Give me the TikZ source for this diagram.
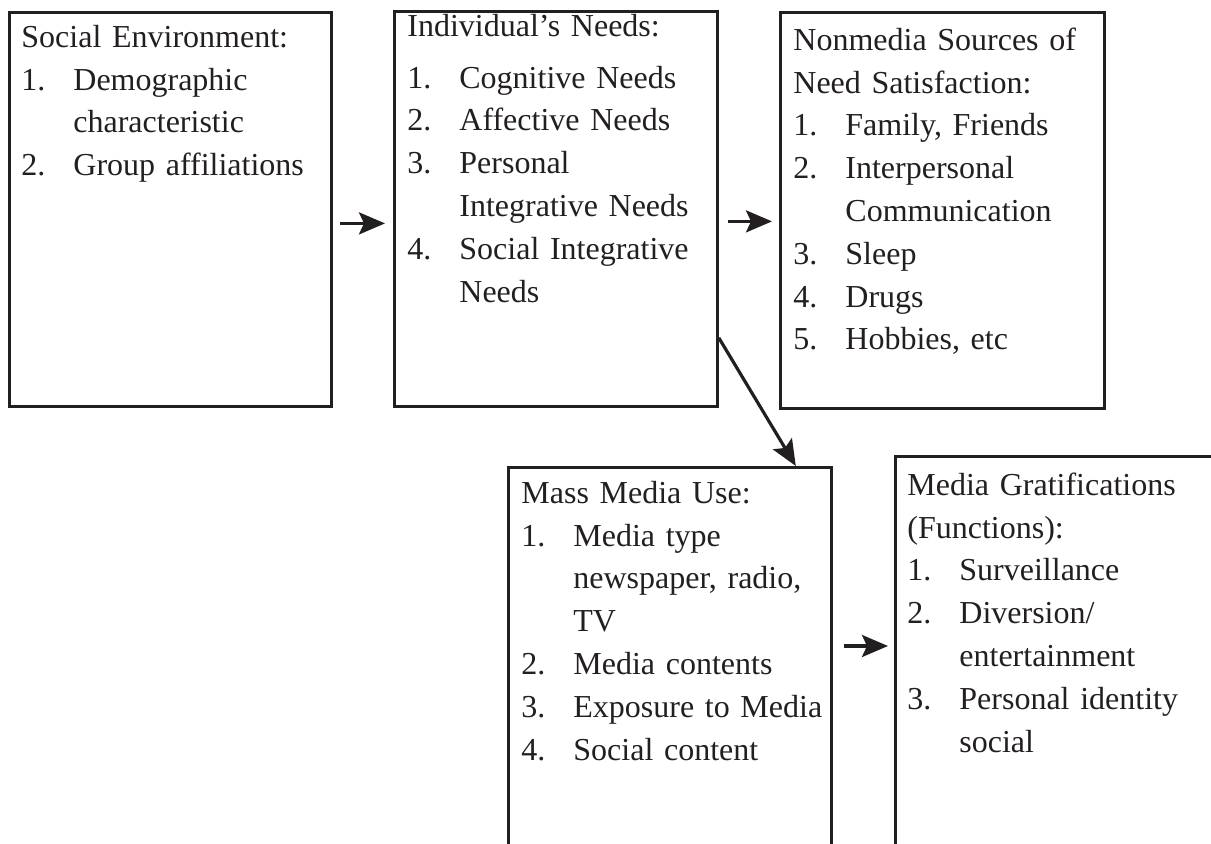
\documentclass[tikz,border=0pt]{standalone}
\usepackage{fontspec}
\setmainfont{Liberation Serif}
\usetikzlibrary{arrows.meta}
\definecolor{ugInk}{HTML}{231f20}
\newcommand{\li}[2]{\par\noindent\hangindent=26pt\hangafter=1\makebox[26pt][l]{#1}#2\par}
\tikzset{
  >={Stealth[length=13pt,width=11pt,inset=2.5pt]},
  box/.style={draw=ugInk, line width=1.4pt, inner sep=0pt, anchor=north west},
  txt/.style={anchor=north west, inner sep=0pt, text width=155pt, align=left,
              text=ugInk, font=\fontsize{16pt}{21.4pt}\selectfont},
  flow/.style={->, draw=ugInk, line width=1.6pt},
}
\begin{document}
\begin{tikzpicture}[x=0.5pt,y=-0.5pt]
    \useasboundingbox (0,0) rectangle (1211,844);
    % upper row
    \node[box,minimum width=161pt,minimum height=197pt] (soc) at (8,11){};
    \node[txt] (socT) at (21,17){\noindent\strut Social Environment:
      \li{1.}{Demographic\newline characteristic}
      \li{2.}{Group affiliations}};

    \node[box,minimum width=161.5pt,minimum height=197.5pt] (needs) at (393,10){};
    \node[txt] (needsT) at (407,6){\noindent\strut Individual’s Needs:\par\vspace{4.5pt}
      \li{1.}{Cognitive Needs}
      \li{2.}{Affective Needs}
      \li{3.}{Personal\newline Integrative Needs}
      \li{4.}{Social Integrative\newline Needs}};

    \node[box,minimum width=162pt,minimum height=198pt] (nonmedia) at (779,11){};
    \node[txt] (nonmediaT) at (793,20){\noindent\strut Nonmedia Sources of\newline Need Satisfaction:
      \li{1.}{Family, Friends}
      \li{2.}{Interpersonal\newline Communication}
      \li{3.}{Sleep}
      \li{4.}{Drugs}
      \li{5.}{Hobbies, etc}};

    % lower row (runs off the page)
    \node[box,minimum width=161.5pt,minimum height=217pt] (mass) at (507,466){};
    \node[txt] (massT) at (521,473){\noindent\strut Mass Media Use:
      \li{1.}{Media type\newline newspaper, radio,\newline TV}
      \li{2.}{Media contents}
      \li{3.}{Exposure to Media}
      \li{4.}{Social content}};

    \node[box,minimum width=170pt,minimum height=222.5pt] (grat) at (894,455){};
    \node[txt] (gratT) at (907,465){\noindent\strut Media Gratifications\newline (Functions):
      \li{1.}{Surveillance}
      \li{2.}{Diversion/\newline entertainment}
      \li{3.}{Personal identity\newline social}};

    % arrows
    \draw[flow,shorten <=3.5pt,shorten >=4pt] ([yshift=-7pt]soc.east) -- ([yshift=-7pt]soc.east -| needs.west);
    \draw[flow,shorten <=4.5pt,shorten >=3.5pt] ([yshift=-6.25pt]needs.east) -- ([yshift=-6.25pt]needs.east -| nonmedia.west);
    \draw[flow] ([yshift=35pt]needs.south east) -- ([xshift=-18.5pt]mass.north east);
    \draw[flow,shorten <=5.5pt,shorten >=3pt] ([yshift=-90pt]mass.north east) -- ([yshift=-90pt]mass.north east -| grat.west);
\end{tikzpicture}
\end{document}
